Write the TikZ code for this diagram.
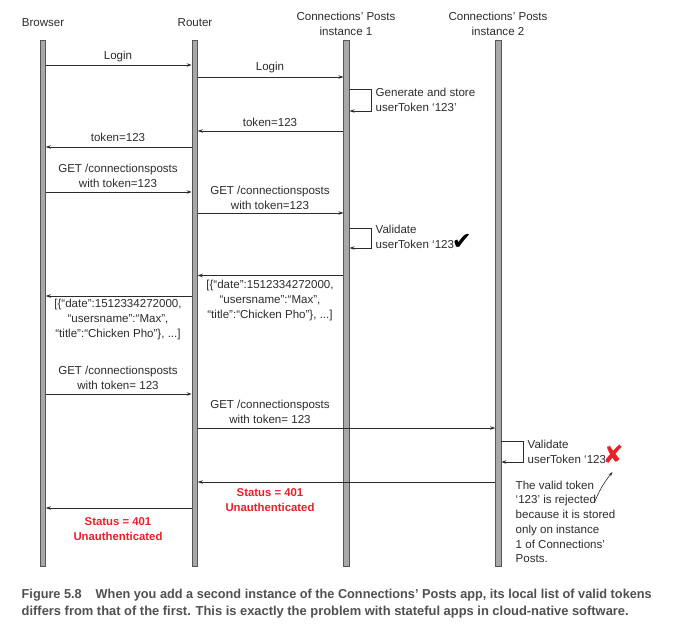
\documentclass[tikz,border=0pt]{standalone}
\usepackage{fontspec}
\usepackage{graphicx}
\setmainfont{Liberation Sans}
\newfontfamily\symfont{DejaVu Sans}
\usetikzlibrary{arrows.meta}
\definecolor{txt}{HTML}{2B2B2B}
\definecolor{lifefill}{HTML}{A8A8A8}
\definecolor{lifedraw}{HTML}{555555}
\definecolor{alert}{HTML}{E8202A}
\definecolor{capgray}{HTML}{505050}
\begin{document}
\begin{tikzpicture}[x=1bp,y=-1bp,
  life/.style={draw=lifedraw,fill=lifefill,line width=0.8bp,minimum width=5.3bp,minimum height=526bp,inner sep=0pt,anchor=north},
  head/.style={text=txt,font=\fontsize{11.6}{15}\selectfont,align=center,inner sep=0pt},
  lbl/.style={text=txt,font=\fontsize{11.6}{15}\selectfont,align=center,inner sep=0pt},
  lbll/.style={text=txt,font=\fontsize{11.6}{15}\selectfont,align=left,inner sep=0pt,anchor=west},
  redlbl/.style={text=alert,font=\bfseries\fontsize{11.4}{15}\selectfont,align=center,inner sep=0pt},
  msg/.style={draw=txt,line width=0.7bp,-{Stealth[length=5bp,width=3.5bp]}},
  captxt/.style={text=capgray,font=\bfseries\fontsize{13}{16}\selectfont,inner sep=0pt,anchor=west}
]
\useasboundingbox (0,0) rectangle (700,641);
% headers
\node[head] (hb) at (43,23) {Browser};
\node[head] (hr) at (195,23) {Router};
\node[head] (h1) at (346,23.5) {Connections' Posts\\instance 1};
\node[head] (h2) at (498,23.5) {Connections' Posts\\instance 2};
% lifelines
\node[life] (b) at (42.7,40) {};
\node[life] (r) at (194.7,40) {};
\node[life] (i1) at (346.5,40) {};
\node[life] (i2) at (498.3,40) {};
% Login
\draw[msg] (b.east |- 0,65) -- (r.west |- 0,65);
\node[lbl] (l1) at (118,57) {Login};
\draw[msg] (r.east |- 0,77) -- (i1.west |- 0,77);
\node[lbl] (l2) at (270,68) {Login};
% generate loop
\draw[msg] (i1.east |- 0,89) -| (371,111) -- (i1.east |- 0,111);
\node[lbll] (g1) at (375.5,100) {Generate and store\\userToken ‘123’};
% token
\draw[msg] (i1.west |- 0,131) -- (r.east |- 0,131);
\node[lbl] (t1) at (270,122) {token=123};
\draw[msg] (r.west |- 0,147) -- (b.east |- 0,147);
\node[lbl] (t2) at (118,137) {token=123};
% GET 1
\draw[msg] (b.east |- 0,192) -- (r.west |- 0,192);
\node[lbl] (gt1) at (118,175.5) {GET /connectionsposts\\with token=123};
\draw[msg] (r.east |- 0,213) -- (i1.west |- 0,213);
\node[lbl] (gt2) at (270,198) {GET /connectionsposts\\with token=123};
% validate loop 1
\draw[msg] (i1.east |- 0,228) -| (371,248) -- (i1.east |- 0,248);
\node[lbll] (v1) at (375.5,236.5) {Validate\\userToken ‘123};
\node[inner sep=0pt,anchor=south west,text=black,font=\symfont\fontsize{24}{24}\selectfont] (ck) at ([xshift=-2.5bp,yshift=-1bp]v1.south east) {✔};
% response
\draw[msg] (i1.west |- 0,275.5) -- (r.east |- 0,275.5);
\node[lbl] (rs1) at (270,300.5) {[\{“date”:1512334272000,\\“usersname”:“Max”,\\“title”:“Chicken Pho”\}, ...]};
\draw[msg] (r.west |- 0,296) -- (b.east |- 0,296);
\node[lbl] (rs2) at (118,319.5) {[\{“date”:1512334272000,\\“usersname”:“Max”,\\“title”:“Chicken Pho”\}, ...]};
% GET 2
\draw[msg] (b.east |- 0,394) -- (r.west |- 0,394);
\node[lbl] (gt3) at (118,377.5) {GET /connectionsposts\\with token= 123};
\draw[msg] (r.east |- 0,428) -- (i2.west |- 0,428);
\node[lbl] (gt4) at (270,411.5) {GET /connectionsposts\\with token= 123};
% validate loop 2
\draw[msg] (i2.east |- 0,441) -| (523,462) -- (i2.east |- 0,462);
\node[lbll] (v2) at (527.5,451.5) {Validate\\userToken ‘123};
\node[inner sep=0pt,anchor=south west,text=alert,font=\symfont\bfseries\fontsize{25}{25}\selectfont] (xm) at ([xshift=-3.5bp,yshift=-0.5bp]v2.south east) {✘};
% status
\draw[msg] (i2.west |- 0,482) -- (r.east |- 0,482);
\node[redlbl] (s1) at (270,500.5) {Status = 401\\Unauthenticated};
\draw[msg] (r.west |- 0,508) -- (b.east |- 0,508);
\node[redlbl] (s2) at (118,529.5) {Status = 401\\Unauthenticated};
% note
\node[lbll,font=\fontsize{11.6}{14.8}\selectfont,anchor=north west] (nt) at (515.5,480.5) {The valid token\\‘123’ is rejected\\because it is stored\\only on instance\\1 of Connections'\\Posts.};
\coordinate (ns) at (595,501);
\draw[draw=txt,line width=0.6bp,-{Stealth[length=4.5bp,width=3bp]}] (ns) to[bend left=8] (612.5,472);
% caption
\node[captxt] (c1) at (21.5,595) {\resizebox{630bp}{\height}{Figure 5.8\hspace{1.1em}When you add a second instance of the Connections' Posts app, its local list of valid tokens}};
\node[captxt] (c2) at (21.5,612) {\resizebox{607bp}{\height}{differs from that of the first. This is exactly the problem with stateful apps in cloud-native software.}};
\end{tikzpicture}
\end{document}
